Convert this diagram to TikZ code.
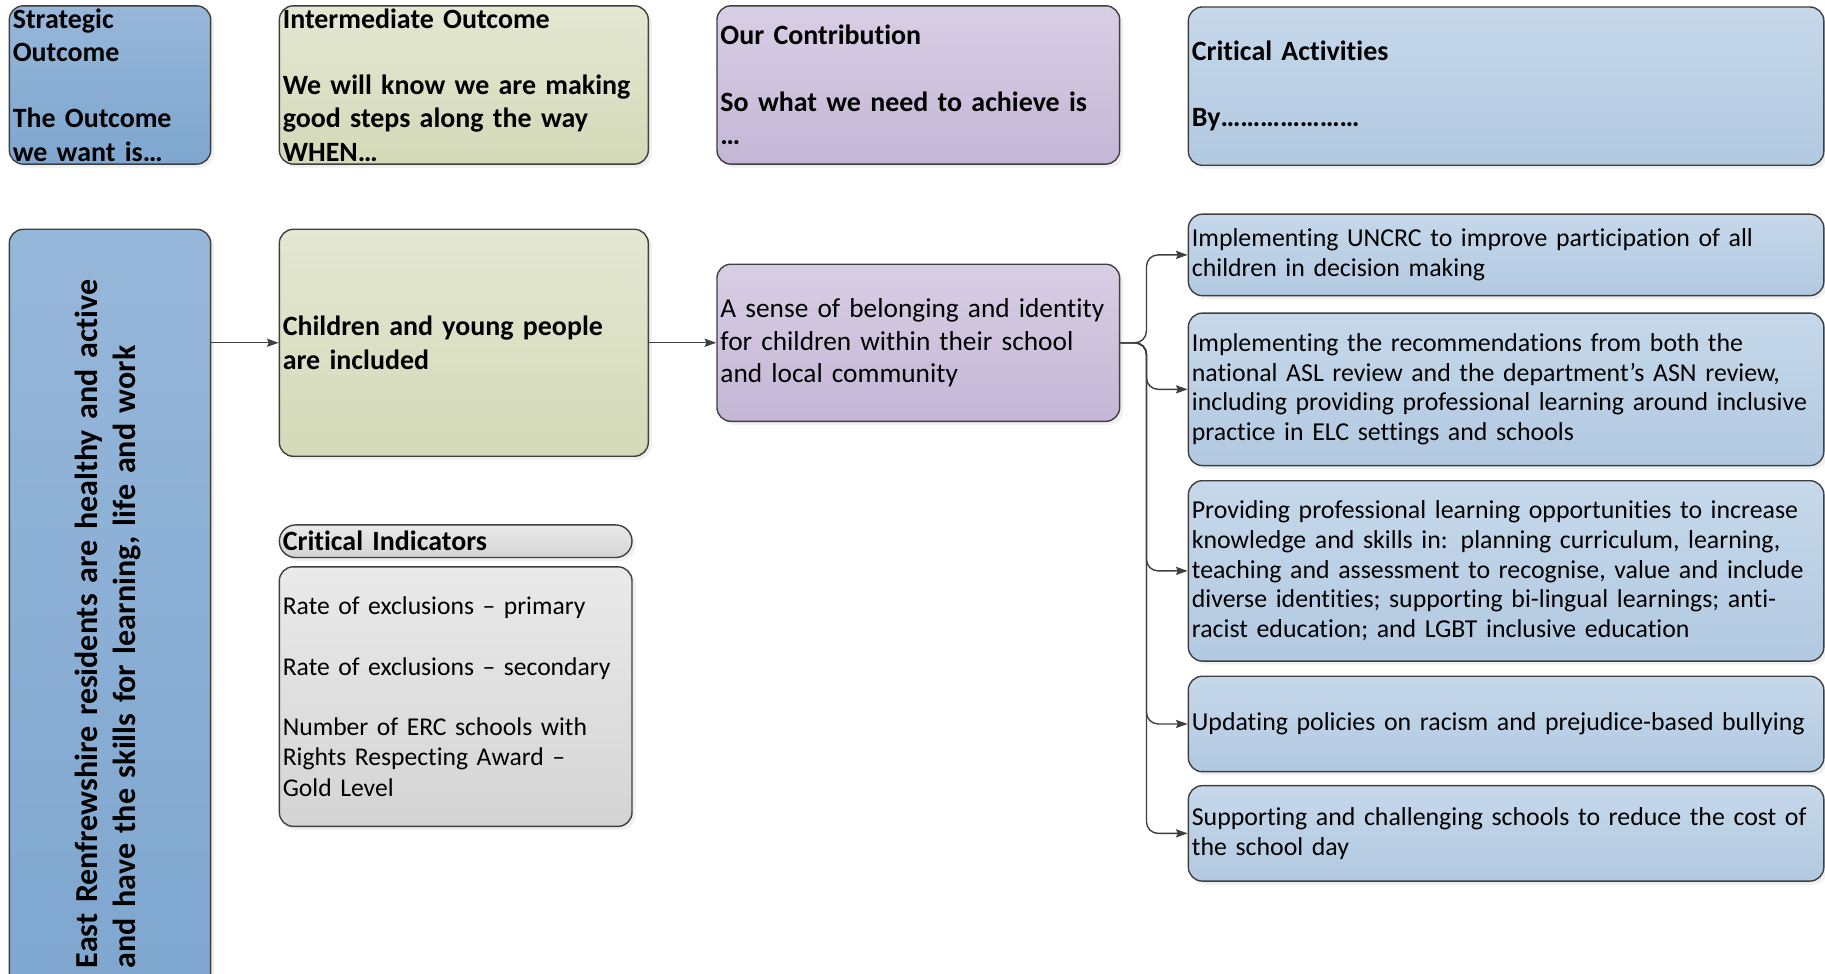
\documentclass[tikz,border=0pt]{standalone}
\usepackage{fontspec}
\setmainfont{Carlito}[Ligatures=NoCommon]
\usetikzlibrary{shadows,arrows.meta,calc}
\definecolor{bordc}{HTML}{3F3F3F}
\definecolor{sbA}{HTML}{97B7DA}
\definecolor{sbB}{HTML}{7EA6CF}
\definecolor{grA}{HTML}{E4E7D2}
\definecolor{grB}{HTML}{D4D9B8}
\definecolor{puA}{HTML}{D8CEE4}
\definecolor{puB}{HTML}{C4B6D6}
\definecolor{lbA}{HTML}{C6D8EA}
\definecolor{lbB}{HTML}{B2C9E1}
\definecolor{gyA}{HTML}{EAEAEA}
\definecolor{gyB}{HTML}{D4D4D4}
\newcommand{\hfont}{\bfseries\fontsize{24}{28.5}\selectfont}
\newcommand{\afont}{\fontsize{22.2}{25.5}\selectfont}
\begin{document}
\begin{tikzpicture}[x=1pt,y=-1pt,
  box/.style={draw=bordc, line width=1.2pt, rounded corners=12pt, inner xsep=3pt, inner ysep=0pt,
    align=left, drop shadow={shadow xshift=3pt, shadow yshift=-3pt, opacity=0.12}},
  sbox/.style={box, top color=sbA, bottom color=sbB},
  gbox/.style={box, top color=grA, bottom color=grB},
  pbox/.style={box, top color=puA, bottom color=puB},
  lbox/.style={box, top color=lbA, bottom color=lbB},
  ybox/.style={box, top color=gyA, bottom color=gyB},
  conn/.style={draw=bordc, line width=1.2pt, -{Stealth[length=10pt,width=7pt,inset=1.5pt]}}
]
\useasboundingbox (0,0) rectangle (1568,836);

% header row
\node[sbox, minimum width=173pt, minimum height=136pt, text width=167pt, font=\hfont] (sh) at (94.5,73)
  {Strategic\\Outcome\\[28.5pt]The Outcome\\we want is…};
\node[gbox, minimum width=317pt, minimum height=136pt, text width=311pt, font=\hfont] (ih) at (398.5,73)
  {Intermediate Outcome\\[28.5pt]We will know we are making\\good steps along the way\\WHEN…};
\node[pbox, minimum width=346pt, minimum height=136pt, text width=340pt, font=\hfont] (ch) at (789,73)
  {Our Contribution\\[28.5pt]So what we need to achieve is\\…};
\node[lbox, minimum width=546pt, minimum height=136pt, text width=540pt, font=\hfont] (ah) at (1294,74)
  {Critical Activities\\[28.5pt]By…………………};

% main row
\node[sbox, minimum width=173pt, minimum height=673pt] (big) at (94.5,533.5) {};
\node[rotate=90, anchor=west, inner sep=0pt, text width=700pt, align=left,
  font=\bfseries\fontsize{27.5}{33}\selectfont] (bigt) at (93,832)
  {East Renfrewshire residents are healthy and active\\and have the skills for learning, life and work};

\node[gbox, minimum width=317pt, minimum height=195pt, text width=311pt, font=\hfont] (green) at (398.5,294.5)
  {Children and young people\\are included};
\node[pbox, minimum width=346pt, minimum height=135pt, text width=340pt,
  font=\fontsize{23.5}{28}\selectfont] (purple) at (789,294.5)
  {A sense of belonging and identity\\for children within their school\\and local community};

\node[ybox, rounded corners=14pt, minimum width=303pt, minimum height=28pt, text width=297pt, font=\hfont] (cih) at (391.5,465)
  {Critical Indicators};
\node[ybox, minimum width=303pt, minimum height=223pt, text width=297pt,
  font=\fontsize{22}{26}\selectfont] (ci) at (391.5,598.5)
  {Rate of exclusions – primary\\[26pt]Rate of exclusions – secondary\\[26pt]Number of ERC schools with\\Rights Respecting Award –\\Gold Level};

% activities
\node[lbox, minimum width=546pt, minimum height=70pt, text width=540pt, font=\afont] (a1) at (1294,219)
  {Implementing UNCRC to improve participation of all\\children in decision making};
\node[lbox, minimum width=546pt, minimum height=131pt, text width=540pt, font=\afont] (a2) at (1294,334.5)
  {Implementing the recommendations from both the\\national ASL review and the department’s ASN review,\\including providing professional learning around inclusive\\practice in ELC settings and schools};
\node[lbox, minimum width=546pt, minimum height=155pt, text width=540pt, font=\afont] (a3) at (1294,490.5)
  {Providing professional learning opportunities to increase\\knowledge and skills in: planning curriculum, learning,\\teaching and assessment to recognise, value and include\\diverse identities; supporting bi-lingual learnings; anti-\\racist education; and LGBT inclusive education};
\node[lbox, minimum width=546pt, minimum height=82pt, text width=540pt, font=\afont] (a4) at (1294,622)
  {Updating policies on racism and prejudice-based bullying};
\node[lbox, minimum width=546pt, minimum height=82pt, text width=540pt, font=\afont] (a5) at (1294,716)
  {Supporting and challenging schools to reduce the cost of\\the school day};

% connectors
\draw[conn] (big.east |- green.west) -- (green.west);
\draw[conn] (green.east) -- (purple.west);
\coordinate (j) at (985,294.5);
\foreach \t in {a1,a2,a3,a4,a5}{
  \draw[conn, rounded corners=10pt] (purple.east) -- (j) |- (\t.west);
}
\end{tikzpicture}
\end{document}
